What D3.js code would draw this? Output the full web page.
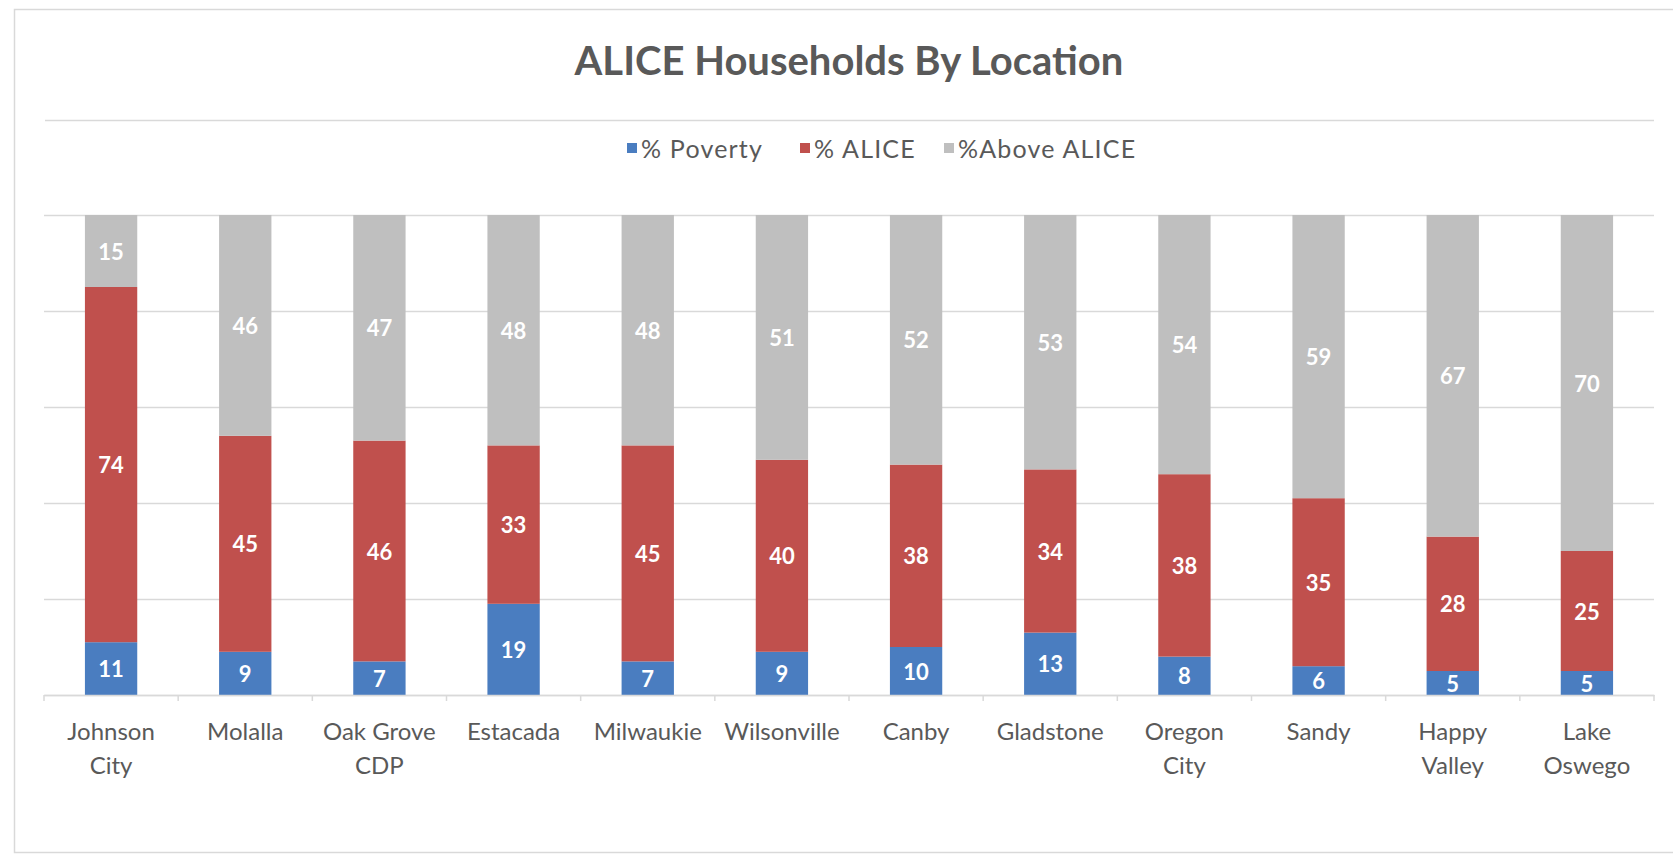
<!DOCTYPE html>
<html>
<head>
<meta charset="utf-8">
<script src="https://cdn.jsdelivr.net/npm/d3@7"></script>
<style>
  html, body { margin: 0; padding: 0; background: #fff; }
  svg { display: block; }
  text { font-family: Lato, "Open Sans", sans-serif; }
</style>
</head>
<body>
<svg id="chart" width="1673" height="862"></svg>
<script>
// Household shares by location (percent)
const categories = ["Johnson City", "Molalla", "Oak Grove CDP", "Estacada", "Milwaukie", "Wilsonville",
                    "Canby", "Gladstone", "Oregon City", "Sandy", "Happy Valley", "Lake Oswego"];
const categoryLines = [["Johnson", "City"], ["Molalla"], ["Oak Grove", "CDP"], ["Estacada"], ["Milwaukie"],
                       ["Wilsonville"], ["Canby"], ["Gladstone"], ["Oregon", "City"], ["Sandy"],
                       ["Happy", "Valley"], ["Lake", "Oswego"]];
const seriesNames = ["% Poverty", "% ALICE", "%Above ALICE"];
const poverty = [11, 9, 7, 19, 7, 9, 10, 13, 8, 6, 5, 5];
const alice   = [74, 45, 46, 33, 45, 40, 38, 34, 38, 35, 28, 25];
const above   = [15, 46, 47, 48, 48, 51, 52, 53, 54, 59, 67, 70];
const yTicks  = [0, 20, 40, 60, 80, 100];
const colors  = ["#4a7dc0", "#c0504d", "#bfbfbf"];

const svg = d3.select("#chart");
const W = 1673, H = 862;
const plot = { left: 44, right: 1654, top: 215, bottom: 695 };

// chart frame
svg.append("path")
  .attr("d", `M${W + 2},9.5 H14.5 V852.5 H${W + 2}`)
  .attr("fill", "none").attr("stroke", "#d9d9d9").attr("stroke-width", 1.5);

// title
svg.append("text")
  .attr("x", 849).attr("y", 60)
  .attr("text-anchor", "middle").attr("dominant-baseline", "central")
  .attr("font-size", 40).attr("font-weight", 700).attr("fill", "#595959")
  .text("ALICE Households By Location");

// rule under the title
svg.append("line")
  .attr("x1", 45).attr("x2", plot.right).attr("y1", 120.5).attr("y2", 120.5)
  .attr("stroke", "#d9d9d9").attr("stroke-width", 1.5);

// legend
const legendItems = [
  { name: seriesNames[0], x: 627 },
  { name: seriesNames[1], x: 800 },
  { name: seriesNames[2], x: 944 }
];
const lg = svg.append("g");
legendItems.forEach((d, i) => {
  lg.append("rect").attr("x", d.x).attr("y", 143).attr("width", 10).attr("height", 10).attr("fill", colors[i]);
  lg.append("text").attr("x", d.x + 14).attr("y", 148)
    .attr("dominant-baseline", "central")
    .attr("font-size", 25).attr("letter-spacing", 1.2).attr("fill", "#595959").text(d.name);
});

// scales
const x = d3.scaleBand().domain(categories).range([plot.left, plot.right])
  .paddingInner(0.61).paddingOuter(0.305);
const y = d3.scaleLinear().domain([0, 100]).range([plot.bottom, plot.top]);

// horizontal gridlines
svg.append("g")
  .attr("transform", `translate(${plot.left},0)`)
  .call(d3.axisLeft(y).tickValues(yTicks).tickSize(-(plot.right - plot.left)).tickFormat(""))
  .call(g => g.select(".domain").remove())
  .call(g => g.selectAll(".tick line").attr("stroke", "#d9d9d9").attr("stroke-width", 1.5));

// stacked columns
const rows = categories.map((c, i) => ({ cat: c, p: poverty[i], a: alice[i], o: above[i] }));
const stack = d3.stack().keys(["p", "a", "o"])(rows);

const layers = svg.append("g").selectAll("g").data(stack).join("g")
  .attr("fill", (d, i) => colors[i]);
layers.selectAll("rect").data(d => d).join("rect")
  .attr("x", d => x(d.data.cat))
  .attr("width", x.bandwidth())
  .attr("y", d => y(d[1]))
  .attr("height", d => y(d[0]) - y(d[1]));

// value labels
const labels = svg.append("g");
stack.forEach(layer => {
  layer.forEach(d => {
    labels.append("text")
      .attr("x", x(d.data.cat) + x.bandwidth() / 2)
      .attr("y", (y(d[0]) + y(d[1])) / 2)
      .attr("text-anchor", "middle").attr("dominant-baseline", "central")
      .attr("font-size", 22).attr("font-weight", 700).attr("fill", "#ffffff")
      .text(d[1] - d[0]);
  });
});

// category axis
const xAxis = svg.append("g")
  .attr("transform", `translate(0,${plot.bottom})`)
  .call(d3.axisBottom(x).tickSize(0).tickFormat(""));
xAxis.select(".domain").attr("stroke", "#d9d9d9").attr("stroke-width", 1.5);

// small ticks between categories
const step = x.step();
const bounds = d3.range(categories.length + 1).map(i => plot.left + i * step);
svg.append("g").selectAll("line").data(bounds).join("line")
  .attr("x1", d => d).attr("x2", d => d)
  .attr("y1", plot.bottom).attr("y2", plot.bottom + 6)
  .attr("stroke", "#d9d9d9").attr("stroke-width", 1.5);

const catLabels = svg.append("g");
categories.forEach((c, i) => {
  const t = catLabels.append("text")
    .attr("x", x(c) + x.bandwidth() / 2)
    .attr("text-anchor", "middle")
    .attr("font-size", 24).attr("fill", "#595959");
  categoryLines[i].forEach((line, j) => {
    t.append("tspan").attr("x", x(c) + x.bandwidth() / 2)
      .attr("y", 730 + j * 34).attr("dominant-baseline", "central").text(line);
  });
});
</script>
</body>
</html>
